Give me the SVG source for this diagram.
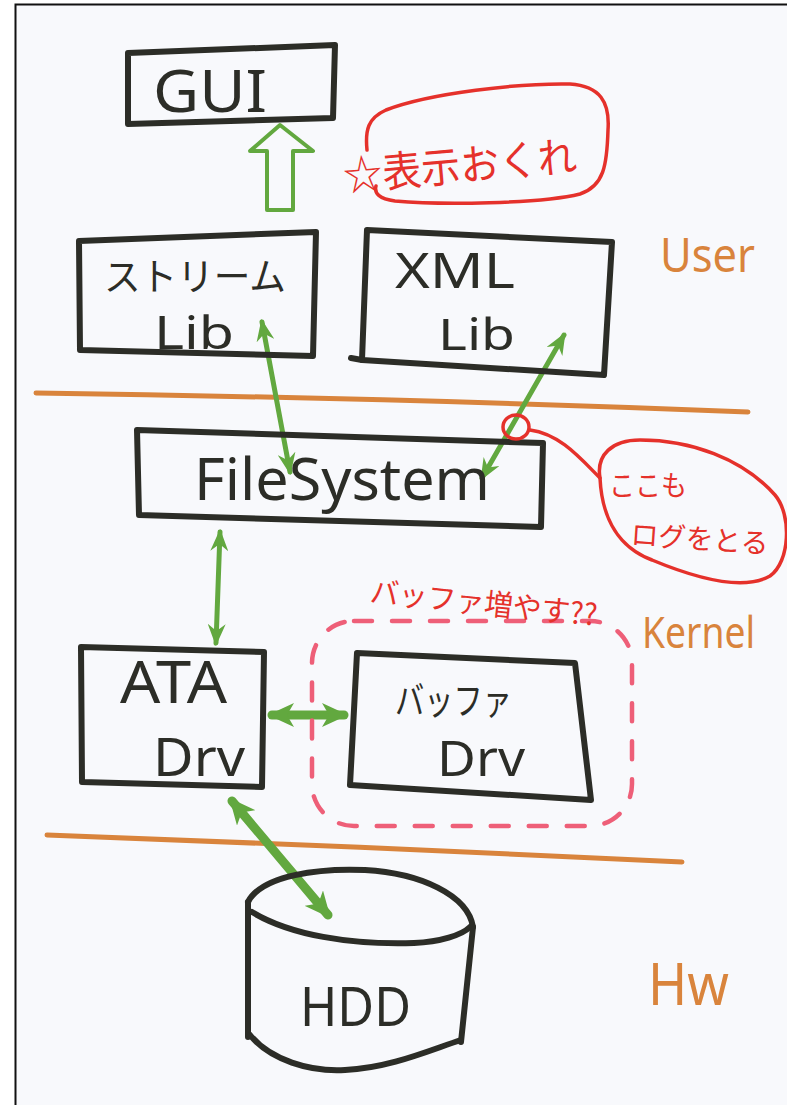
<svg xmlns="http://www.w3.org/2000/svg" width="787" height="1105" viewBox="0 0 787 1105">
  <style>
    .ink { fill: none; stroke: #2c2d27; stroke-width: 6; stroke-linejoin: round; stroke-linecap: round; }
    .lbl { font-family: "Noto Sans", "Noto Sans CJK JP", sans-serif; fill: #2c2d27; }
    .red { font-family: "Noto Sans CJK JP", "Noto Sans", sans-serif; fill: #e5312b; }
    .redline { fill: none; stroke: #e5312b; stroke-width: 3.5; stroke-linecap: round; stroke-linejoin: round; }
    .layer { font-family: "Noto Sans", sans-serif; fill: #d9843c; }
    .sep { fill: none; stroke: #d9843c; stroke-width: 5; stroke-linecap: round; }
    .flow { fill: none; stroke: #62a83f; stroke-linecap: round; }
    .thin { stroke-width: 5; marker-start: url(#ah); marker-end: url(#ah); }
    .thick { stroke-width: 9; marker-start: url(#ahBig); marker-end: url(#ahBig); }
  </style>
  <defs>
    <marker id="ah" viewBox="0 0 22 18" refX="19" refY="9" markerWidth="22" markerHeight="18" markerUnits="userSpaceOnUse" orient="auto-start-reverse">
      <path d="M0,0 L22,9 L0,18 L7,9 z" fill="#62a83f"/>
    </marker>
    <marker id="ahBig" viewBox="0 0 26 24" refX="22" refY="12" markerWidth="26" markerHeight="24" markerUnits="userSpaceOnUse" orient="auto-start-reverse">
      <path d="M0,0 L26,12 L0,24 L7,12 z" fill="#62a83f"/>
    </marker>
  </defs>

  <!-- paper -->
  <rect x="0" y="0" width="787" height="1105" fill="#ffffff"/>
  <rect x="15" y="4" width="772" height="1101" fill="#f8f9fc"/>
  <path d="M15.5,1105 V4.5 H787" fill="none" stroke="#111" stroke-width="2"/>

  <!-- layer separators -->
  <g id="separators">
    <path class="sep" d="M36,393 C250,396 500,402 748,412"/>
    <path class="sep" d="M47,835 C250,842 480,852 682,862"/>
  </g>

  <!-- layer labels -->
  <g id="layer-labels">
    <text class="layer" x="660" y="272" font-size="48" textLength="95" lengthAdjust="spacingAndGlyphs">User</text>
    <text class="layer" x="642" y="648" font-size="44" textLength="113" lengthAdjust="spacingAndGlyphs">Kernel</text>
    <text class="layer" x="648" y="1005" font-size="58" textLength="81" lengthAdjust="spacingAndGlyphs">Hw</text>
  </g>

  <!-- connectors -->
  <g id="connectors">
    <!-- hollow block arrow up into GUI -->
    <path d="M267,210 L267,151 L250,151 L280,125 L313,151 L293,151 L293,210 Z" fill="none" stroke="#62a83f" stroke-width="4" stroke-linejoin="round"/>
    <path class="flow thin" d="M262,322 L290,472"/>
    <path class="flow thin" d="M564,335 L482,478"/>
    <path class="flow thin" d="M220,532 L216,643"/>
    <path class="flow thick" d="M272,715 L344,715"/>
    <path class="flow thick" d="M232,801 L328,915"/>
  </g>

  <!-- nodes -->
  <g id="gui">
    <path class="ink" d="M128,53 L335,45 L333,118 L128,124 Z"/>
    <text class="lbl" x="153" y="112" font-size="58" textLength="114" lengthAdjust="spacingAndGlyphs">GUI</text>
  </g>

  <g id="stream-lib">
    <path class="ink" d="M79,241 L316,232 L313,356 L80,350 Z"/>
    <text class="lbl" x="104" y="290" font-size="38" textLength="182" lengthAdjust="spacingAndGlyphs">ストリーム</text>
    <text class="lbl" x="154" y="349" font-size="46" textLength="80" lengthAdjust="spacingAndGlyphs">Lib</text>
  </g>

  <g id="xml-lib">
    <path class="ink" d="M367,230 L612,242 L604,375 L362,360 Z"/>
    <path class="ink" d="M362,360 L351,358"/>
    <text class="lbl" x="395" y="288" font-size="50" textLength="120" lengthAdjust="spacingAndGlyphs">XML</text>
    <text class="lbl" x="438" y="350" font-size="44" textLength="77" lengthAdjust="spacingAndGlyphs">Lib</text>
  </g>

  <g id="filesystem">
    <path class="ink" d="M137,430 L543,443 L541,527 L139,515 Z"/>
    <text class="lbl" x="194" y="500" font-size="58" textLength="296" lengthAdjust="spacingAndGlyphs">FileSystem</text>
  </g>

  <g id="ata-drv">
    <path class="ink" d="M81,647 L264,652 L262,787 L82,782 Z"/>
    <text class="lbl" x="120" y="703" font-size="58" textLength="107" lengthAdjust="spacingAndGlyphs">ATA</text>
    <text class="lbl" x="153" y="776" font-size="52" textLength="92" lengthAdjust="spacingAndGlyphs">Drv</text>
  </g>

  <g id="buffer-drv">
    <path class="ink" d="M357,653 L575,663 L591,800 L350,785 Z"/>
    <text class="lbl" x="395" y="714" font-size="38" textLength="117" lengthAdjust="spacingAndGlyphs">バッファ</text>
    <text class="lbl" x="437" y="776" font-size="50" textLength="88" lengthAdjust="spacingAndGlyphs">Drv</text>
  </g>

  <g id="hdd">
    <path class="ink" d="M248,902 C262,875 320,868 365,870 C420,873 468,895 473,927"/>
    <path class="ink" d="M252,912 C290,935 350,945 414,943 C440,942 462,935 470,927"/>
    <path class="ink" d="M248,902 L248,1037"/>
    <path class="ink" d="M473,927 L461,1042"/>
    <path class="ink" d="M250,1035 C270,1060 310,1072 345,1070 C390,1068 430,1050 461,1040"/>
    <text class="lbl" x="300" y="1026" font-size="54" textLength="111" lengthAdjust="spacingAndGlyphs">HDD</text>
  </g>

  <!-- annotations -->
  <g id="note-delay">
    <path class="redline" d="M367,150 C365,130 368,118 386,110 C430,93 520,83 570,84 C600,86 610,102 608,130 C607,165 604,186 580,194 C540,204 440,205 395,201 C379,199 374,193 376,186"/>
    <text class="red" x="343" y="181" font-size="42" textLength="234" lengthAdjust="spacingAndGlyphs" transform="rotate(-5 460 165)">☆表示おくれ</text>
  </g>

  <g id="note-log">
    <ellipse cx="516" cy="427" rx="13" ry="12" class="redline"/>
    <path class="redline" d="M530,430 C560,434 580,458 600,478"/>
    <path class="redline" d="M600,478 C596,455 612,440 640,440 C690,440 742,458 775,495 C792,515 790,562 770,576 C745,590 700,580 652,560 C620,548 602,520 600,478 Z"/>
    <text class="red" x="609" y="496" font-size="28" textLength="78" lengthAdjust="spacingAndGlyphs">ここも</text>
    <text class="red" x="631" y="549" font-size="28" textLength="138" lengthAdjust="spacingAndGlyphs" transform="rotate(4 700 535)">ログをとる</text>
  </g>

  <g id="note-buffer">
    <rect x="312" y="621" width="320" height="205" rx="42" fill="none" stroke="#ee5f78" stroke-width="4.5" stroke-linecap="round" stroke-dasharray="18 20"/>
    <text class="red" x="370" y="614" font-size="30" textLength="228" lengthAdjust="spacingAndGlyphs" transform="rotate(6 485 600)">バッファ増やす??</text>
  </g>
</svg>
